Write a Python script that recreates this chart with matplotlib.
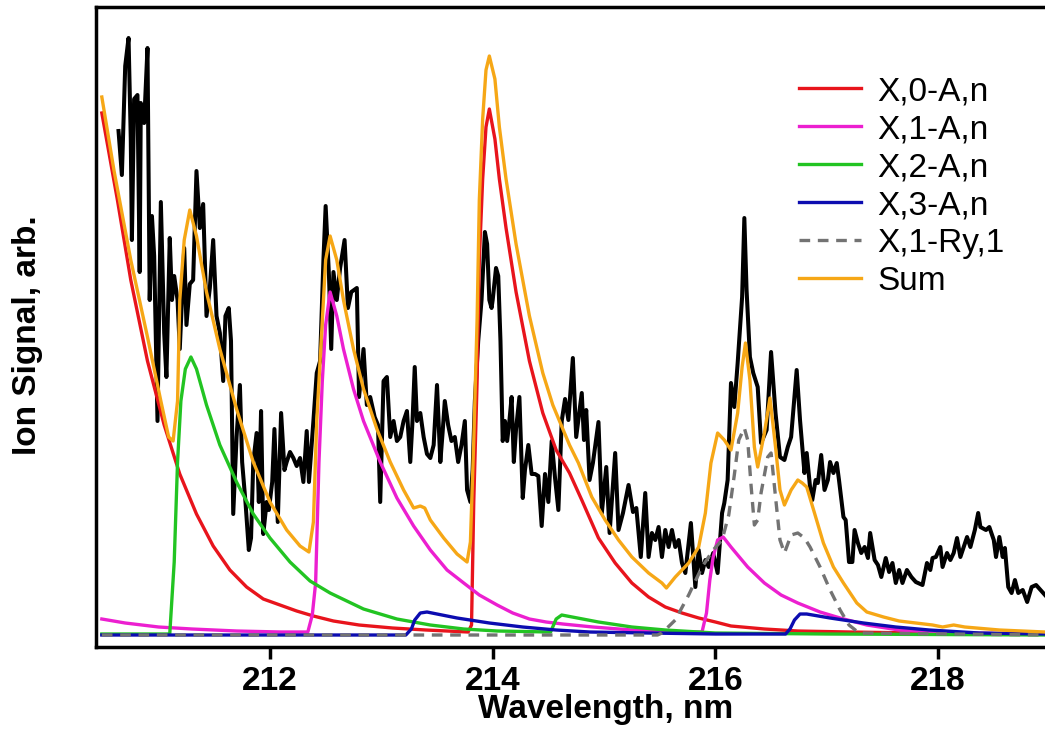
import numpy as np
import matplotlib
matplotlib.use("Agg")
import matplotlib.pyplot as plt

plt.rcParams['font.family'] = ['Liberation Sans', 'DejaVu Sans']

# measured ion signal (black trace)
exp_wl = [
    210.64, 210.67, 210.70, 210.73, 210.75, 210.76, 210.78, 210.81, 210.83, 210.84,
    210.87, 210.90, 210.92, 210.94, 210.96, 210.99, 211.02, 211.05, 211.07, 211.10,
    211.12, 211.14, 211.17, 211.19, 211.23, 211.25, 211.28, 211.31, 211.34, 211.37,
    211.40, 211.43, 211.46, 211.49, 211.52, 211.55, 211.58, 211.60, 211.63, 211.65,
    211.67, 211.70, 211.73, 211.75, 211.78, 211.81, 211.83, 211.85, 211.88, 211.90,
    211.92, 211.94, 211.97, 211.99, 212.02, 212.04, 212.07, 212.10, 212.13, 212.15,
    212.18, 212.21, 212.24, 212.27, 212.30, 212.33, 212.35, 212.39, 212.42, 212.45,
    212.48, 212.50, 212.53, 212.55, 212.57, 212.60, 212.63, 212.67, 212.70, 212.73,
    212.78, 212.80, 212.84, 212.87, 212.90, 212.94, 212.97, 212.99, 213.02, 213.05,
    213.08, 213.11, 213.14, 213.17, 213.20, 213.23, 213.26, 213.28, 213.30, 213.32,
    213.35, 213.38, 213.41, 213.44, 213.47, 213.50, 213.53, 213.55, 213.57, 213.60,
    213.63, 213.66, 213.69, 213.72, 213.75, 213.77, 213.80, 213.82, 213.84, 213.87,
    213.90, 213.93, 213.95, 213.97, 213.99, 214.00, 214.03, 214.05, 214.07, 214.09,
    214.11, 214.13, 214.15, 214.17, 214.19, 214.21, 214.24, 214.27, 214.29, 214.32,
    214.35, 214.38, 214.41, 214.44, 214.47, 214.50, 214.53, 214.56, 214.59, 214.62,
    214.65, 214.68, 214.72, 214.75, 214.80, 214.82, 214.84, 214.87, 214.90, 214.95,
    214.98, 215.02, 215.05, 215.10, 215.13, 215.17, 215.22, 215.26, 215.29, 215.33,
    215.37, 215.40, 215.43, 215.46, 215.49, 215.52, 215.55, 215.58, 215.61, 215.64,
    215.67, 215.70, 215.73, 215.78, 215.82, 215.85, 215.88, 215.91, 215.94, 215.98,
    216.02, 216.06, 216.08, 216.11, 216.14, 216.17, 216.20, 216.24, 216.26, 216.28,
    216.31, 216.34, 216.38, 216.41, 216.46, 216.50, 216.54, 216.58, 216.62, 216.65,
    216.68, 216.73, 216.76, 216.78, 216.80, 216.82, 216.85, 216.87, 216.90, 216.92,
    216.95, 216.98, 217.01, 217.03, 217.06, 217.09, 217.11, 217.15, 217.17, 217.20,
    217.23, 217.25, 217.28, 217.31, 217.34, 217.37, 217.39, 217.43, 217.46, 217.49,
    217.53, 217.56, 217.59, 217.62, 217.65, 217.68, 217.72, 217.76, 217.80, 217.86,
    217.90, 217.93, 217.95, 217.98, 218.02, 218.04, 218.08, 218.11, 218.14, 218.17,
    218.20, 218.23, 218.26, 218.29, 218.33, 218.36, 218.38, 218.43, 218.46, 218.50,
    218.52, 218.55, 218.58, 218.60, 218.63, 218.66, 218.69, 218.72, 218.76, 218.80,
    218.84, 218.88, 218.92, 218.96,
]
exp_sig = [
    5.04, 4.60, 5.69, 5.97, 4.96, 3.95, 5.36, 5.40, 3.63, 5.32,
    5.12, 5.87, 3.35, 4.19, 3.79, 2.14, 4.33, 3.02, 2.58, 3.97,
    3.35, 3.59, 3.35, 2.86, 3.87, 3.10, 3.51, 3.55, 4.64, 4.07,
    4.31, 3.19, 3.47, 3.95, 3.19, 3.02, 2.54, 3.19, 3.27, 2.94,
    1.21, 1.98, 2.50, 1.73, 1.33, 0.85, 0.97, 1.73, 2.02, 1.33,
    2.24, 1.01, 1.33, 1.25, 1.53, 2.06, 1.13, 2.22, 1.65, 1.73,
    1.83, 1.77, 1.69, 1.77, 1.53, 2.04, 1.53, 2.14, 2.62, 2.74,
    3.75, 4.29, 3.59, 2.86, 3.63, 3.35, 3.67, 3.95, 3.27, 3.43,
    3.47, 2.38, 2.86, 2.30, 2.38, 2.18, 2.10, 1.33, 2.54, 2.58,
    1.98, 2.14, 1.94, 1.98, 2.14, 2.24, 1.73, 2.14, 2.68, 2.14,
    2.22, 1.98, 1.81, 1.77, 1.90, 2.50, 1.73, 2.02, 2.34, 2.10,
    1.94, 1.98, 1.73, 1.90, 2.14, 1.45, 1.33, 1.65, 2.34, 2.94,
    3.35, 4.03, 3.91, 3.35, 3.27, 3.35, 3.67, 3.59, 2.94, 1.94,
    2.14, 1.94, 2.14, 2.38, 1.73, 2.06, 2.38, 1.37, 1.65, 1.90,
    1.61, 1.61, 1.59, 1.09, 1.61, 1.33, 1.94, 1.57, 1.25, 2.14,
    2.36, 2.15, 2.77, 1.98, 2.42, 1.95, 2.25, 1.55, 1.72, 2.13,
    1.22, 1.68, 1.02, 1.82, 1.05, 1.22, 1.50, 1.23, 1.27, 0.78,
    1.42, 0.78, 1.02, 0.95, 1.08, 0.78, 1.05, 0.88, 1.05, 0.88,
    0.95, 0.72, 0.62, 1.12, 0.48, 0.85, 0.62, 0.75, 0.68, 0.82,
    0.62, 1.22, 1.32, 1.55, 2.52, 2.28, 2.72, 3.38, 4.17, 3.45,
    2.78, 2.62, 2.48, 1.92, 2.05, 2.83, 2.22, 1.78, 1.75, 1.88,
    1.98, 2.65, 2.15, 1.88, 1.62, 1.82, 1.48, 1.35, 1.55, 1.52,
    1.80, 1.45, 1.55, 1.73, 1.62, 1.72, 1.55, 1.18, 1.15, 0.73,
    0.73, 1.05, 0.92, 0.82, 0.88, 0.77, 1.02, 0.75, 0.70, 0.58,
    0.77, 0.63, 0.72, 0.52, 0.65, 0.52, 0.65, 0.58, 0.53, 0.50,
    0.72, 0.65, 0.77, 0.78, 0.88, 0.68, 0.82, 0.75, 0.82, 0.97,
    0.78, 0.88, 0.98, 0.88, 1.05, 1.22, 1.08, 1.05, 1.08, 0.95,
    0.78, 0.98, 0.78, 0.87, 0.48, 0.42, 0.55, 0.42, 0.45, 0.33,
    0.48, 0.50, 0.45, 0.40,
]

# simulated components
x0_wl = [210.49, 210.63, 210.75, 210.90, 211.05, 211.19, 211.34, 211.49, 211.64, 211.79,
         211.94, 212.09, 212.24, 212.39, 212.57, 212.80, 213.10, 213.40, 213.78, 213.81,
         213.83, 213.86, 213.88, 213.91, 213.94, 213.97, 214.02, 214.06, 214.12, 214.21,
         214.33, 214.45, 214.57, 214.69, 214.80, 214.95, 215.10, 215.25, 215.40, 215.55,
         215.70, 215.85, 216.00, 216.14, 216.44, 216.74, 217.20, 217.80, 218.96]
x0_sig = [5.22, 4.35, 3.55, 2.74, 2.10, 1.61, 1.21, 0.89, 0.65, 0.48,
          0.36, 0.30, 0.24, 0.19, 0.14, 0.10, 0.07, 0.05, 0.03, 0.10,
          1.33, 2.54, 3.75, 4.56, 5.08, 5.26, 4.96, 4.56, 4.07, 3.43,
          2.74, 2.22, 1.85, 1.62, 1.35, 0.97, 0.72, 0.52, 0.38, 0.28,
          0.22, 0.17, 0.13, 0.09, 0.06, 0.04, 0.03, 0.02, 0.01]

x1_wl = [210.49, 210.70, 211.00, 211.30, 211.70, 212.10, 212.34, 212.38, 212.41, 212.44,
         212.47, 212.50, 212.54, 212.60, 212.66, 212.75, 212.84, 212.99, 213.14, 213.29,
         213.44, 213.59, 213.74, 213.88, 214.04, 214.18, 214.33, 214.48, 214.63, 214.90,
         215.25, 215.60, 215.88, 215.92, 215.95, 215.98, 216.02, 216.07, 216.14, 216.29,
         216.44, 216.59, 216.74, 216.94, 217.12, 217.36, 217.65, 218.10, 218.96]
x1_sig = [0.16, 0.12, 0.08, 0.06, 0.04, 0.03, 0.03, 0.20, 0.52, 1.73,
          2.54, 3.10, 3.43, 3.19, 2.86, 2.46, 2.14, 1.73, 1.37, 1.09,
          0.85, 0.65, 0.52, 0.40, 0.30, 0.22, 0.16, 0.13, 0.11, 0.08,
          0.05, 0.03, 0.03, 0.22, 0.55, 0.78, 0.95, 0.98, 0.88, 0.68,
          0.52, 0.40, 0.32, 0.23, 0.17, 0.10, 0.05, 0.02, 0.01]

x2_wl = [210.49, 211.10, 211.14, 211.17, 211.20, 211.24, 211.29, 211.34, 211.43, 211.55,
         211.70, 211.85, 212.00, 212.18, 212.36, 212.54, 212.84, 213.14, 213.44, 213.74,
         214.04, 214.52, 214.57, 214.62, 214.95, 215.25, 215.55, 216.00, 217.00, 218.96]
x2_sig = [0.01, 0.01, 0.73, 1.73, 2.34, 2.66, 2.78, 2.66, 2.30, 1.90,
          1.53, 1.21, 0.97, 0.73, 0.54, 0.42, 0.26, 0.16, 0.10, 0.06,
          0.04, 0.03, 0.16, 0.20, 0.13, 0.08, 0.05, 0.02, 0.01, 0.00]

x3_wl = [210.49, 213.22, 213.27, 213.30, 213.35, 213.41, 213.68, 213.97, 214.27, 214.57,
         214.87, 215.40, 216.00, 216.63, 216.67, 216.71, 216.76, 216.82, 217.03, 217.33,
         217.62, 217.92, 218.37, 218.96]
x3_sig = [0.00, 0.00, 0.06, 0.15, 0.22, 0.23, 0.17, 0.12, 0.08, 0.05,
          0.03, 0.02, 0.01, 0.01, 0.06, 0.15, 0.21, 0.21, 0.17, 0.12,
          0.08, 0.05, 0.02, 0.01]

ry_wl = [210.49, 215.48, 215.52, 215.64, 215.76, 215.88, 215.98, 216.06, 216.12, 216.17,
         216.21, 216.26, 216.29, 216.32, 216.35, 216.38, 216.41, 216.47, 216.50, 216.54,
         216.58, 216.62, 216.68, 216.74, 216.80, 216.85, 216.94, 217.03, 217.12, 217.20,
         217.29, 218.96]
ry_sig = [0.00, 0.00, 0.02, 0.15, 0.40, 0.68, 0.85, 0.95, 1.20, 1.60,
          1.95, 2.07, 1.95, 1.50, 1.10, 1.15, 1.42, 1.78, 1.82, 1.38,
          0.95, 0.82, 1.00, 1.02, 0.97, 0.88, 0.68, 0.45, 0.25, 0.10,
          0.02, 0.00]

sum_wl = [210.49, 210.60, 210.75, 210.90, 211.02, 211.09, 211.13, 211.17, 211.19, 211.23,
          211.28, 211.34, 211.43, 211.55, 211.70, 211.85, 212.00, 212.15, 212.27, 212.35,
          212.39, 212.42, 212.46, 212.50, 212.54, 212.60, 212.66, 212.75, 212.84, 212.96,
          213.08, 213.20, 213.29, 213.35, 213.39, 213.44, 213.56, 213.68, 213.77, 213.80,
          213.83, 213.86, 213.88, 213.91, 213.94, 213.97, 214.02, 214.06, 214.12, 214.21,
          214.33, 214.45, 214.54, 214.63, 214.69, 214.77, 214.89, 215.01, 215.13, 215.25,
          215.40, 215.52, 215.56, 215.64, 215.76, 215.85, 215.91, 215.96, 216.02, 216.08,
          216.14, 216.20, 216.24, 216.27, 216.31, 216.35, 216.38, 216.44, 216.49, 216.54,
          216.58, 216.62, 216.68, 216.74, 216.78, 216.82, 216.89, 216.97, 217.06, 217.15,
          217.27, 217.36, 217.51, 217.65, 217.95, 218.04, 218.14, 218.24, 218.55, 218.96]
sum_sig = [5.38, 4.64, 3.75, 2.98, 2.34, 1.98, 1.94, 2.34, 3.35, 3.95,
           4.25, 3.99, 3.43, 2.86, 2.26, 1.73, 1.33, 1.05, 0.89, 0.83,
           1.13, 2.14, 2.94, 3.75, 3.99, 3.75, 3.35, 2.86, 2.46, 2.06,
           1.73, 1.45, 1.27, 1.29, 1.27, 1.15, 0.97, 0.81, 0.73, 0.93,
           1.94, 3.15, 4.35, 5.16, 5.65, 5.79, 5.56, 5.08, 4.56, 3.91,
           3.19, 2.62, 2.30, 2.06, 1.90, 1.72, 1.38, 1.15, 0.95, 0.78,
           0.62, 0.52, 0.47, 0.58, 0.72, 0.88, 1.22, 1.72, 2.02, 1.95,
           1.85, 2.22, 2.68, 2.92, 2.55, 1.88, 1.68, 2.02, 2.37, 1.88,
           1.45, 1.30, 1.45, 1.55, 1.52, 1.48, 1.22, 0.92, 0.68, 0.52,
           0.32, 0.23, 0.18, 0.14, 0.10, 0.08, 0.10, 0.08, 0.05, 0.03]

fig = plt.figure(figsize=(10.45, 7.38), dpi=100)
ax = fig.add_axes([0.0919, 0.1233, 0.9081, 0.8672])

lw = 2.4
ax.plot(exp_wl, exp_sig, color='black', lw=2.9, zorder=1)
ax.plot(x0_wl, x0_sig, color='#e8141c', lw=lw, label='X,0-A,n', zorder=2)
ax.plot(x1_wl, x1_sig, color='#ec1fd0', lw=lw, label='X,1-A,n', zorder=2)
ax.plot(x2_wl, x2_sig, color='#22c422', lw=lw, label='X,2-A,n', zorder=2)
ax.plot(x3_wl, x3_sig, color='#0c0cb0', lw=lw, label='X,3-A,n', zorder=3)
ax.plot(ry_wl, ry_sig, color='#737373', lw=lw, ls=(0, (3.2, 2.3)),
        label='X,1-Ry,1', zorder=4)
ax.plot(sum_wl, sum_sig, color='#f6a716', lw=lw, label='Sum', zorder=5)

ax.set_xlim(210.438, 218.96)
ax.set_ylim(-0.12, 6.28)
ax.set_xticks([212, 214, 216, 218])
ax.set_yticks([])
ax.spines['right'].set_visible(False)
for s in ['left', 'bottom', 'top']:
    ax.spines[s].set_linewidth(2.5)
ax.tick_params(axis='x', direction='out', length=8.5, width=2.5, pad=5,
               labelsize=24)
for t in ax.get_xticklabels():
    t.set_fontweight('bold')

ax.set_xlabel('Wavelength, nm', fontsize=24, fontweight='bold')
ax.xaxis.set_label_coords(0.537, -0.073)
ax.set_ylabel('Ion Signal, arb.', fontsize=24, fontweight='bold')
ax.yaxis.set_label_coords(-0.056, 0.4875)

leg = ax.legend(loc='upper left', bbox_to_anchor=(0.765, 0.897),
                bbox_transform=fig.transFigure, frameon=False, fontsize=24,
                handlelength=1.86, handletextpad=0.48, labelspacing=0.21,
                borderpad=0, borderaxespad=0)

fig.savefig('out.png', dpi=100)
